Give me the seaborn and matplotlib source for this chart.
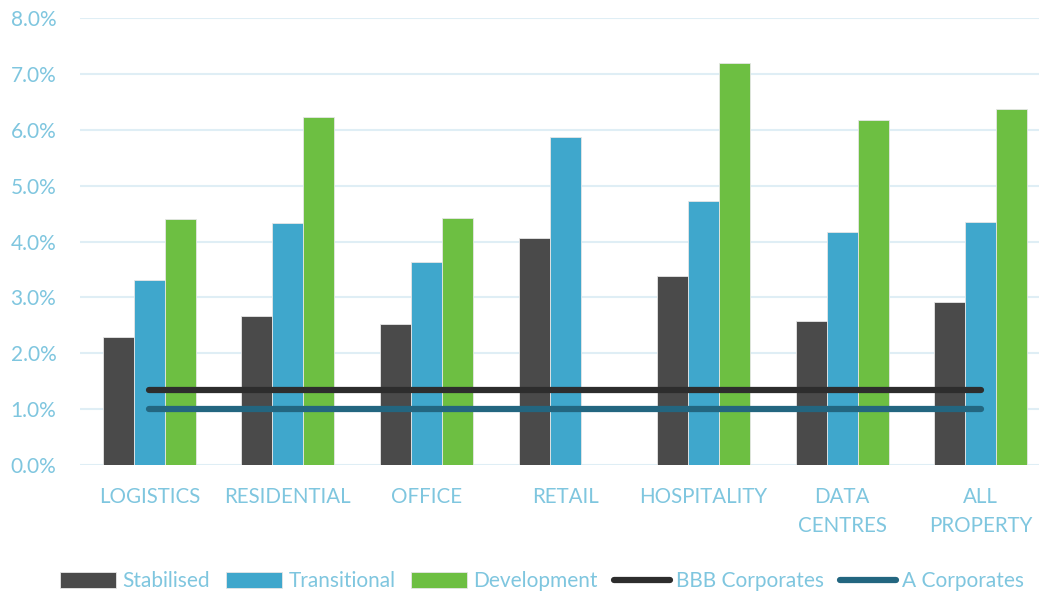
import numpy as np
import pandas as pd
import matplotlib
matplotlib.use("Agg")
import matplotlib.pyplot as plt
import seaborn as sns

categories = ["LOGISTICS", "RESIDENTIAL", "OFFICE", "RETAIL", "HOSPITALITY", "DATA\nCENTRES", "ALL\nPROPERTY"]
stabilised = [2.30, 2.67, 2.52, 4.07, 3.38, 2.58, 2.92]
transitional = [3.32, 4.33, 3.64, 5.88, 4.72, 4.18, 4.35]
development = [4.40, 6.23, 4.42, np.nan, 7.19, 6.18, 6.37]
bbb_corporates = [1.35] * 7
a_corporates = [1.01] * 7
series_names = ["Stabilised", "Transitional", "Development"]
yticks = [0, 1, 2, 3, 4, 5, 6, 7, 8]

text_col = "#7fc6df"
colors = {"Stabilised": "#4a4a4a", "Transitional": "#3fa7cc", "Development": "#6dbf42"}

sns.set_theme(style="white")
plt.rcParams["font.family"] = ["Lato", "DejaVu Sans"]

rows = []
for name, vals in zip(series_names, [stabilised, transitional, development]):
    for c, v in zip(categories, vals):
        rows.append({"category": c, "series": name, "value": v})
df = pd.DataFrame(rows)

fig = plt.figure(figsize=(10.39, 5.91), dpi=100)
ax = fig.add_axes([0.077, 0.213, 0.923, 0.7565])

sns.barplot(data=df, x="category", y="value", hue="series", order=categories,
            hue_order=series_names, palette=colors, width=0.67, ax=ax,
            edgecolor="#e6e6e6", linewidth=0.6, saturation=1, errorbar=None)

xpos = np.arange(len(categories))
sns.lineplot(x=xpos, y=bbb_corporates, color="#2d2d2d", linewidth=4.5,
             solid_capstyle="round", label="BBB Corporates", ax=ax)
sns.lineplot(x=xpos, y=a_corporates, color="#236680", linewidth=4.5,
             solid_capstyle="round", label="A Corporates", ax=ax)

ax.set_ylim(0, 8)
ax.set_xlim(-0.5, 6.42)
ax.set_yticks(yticks)
ax.set_yticklabels([f"{t:.1f}%" for t in yticks])
ax.set_xticks(xpos)
ax.set_xticklabels(categories, linespacing=1.55)
ax.tick_params(axis="y", length=0, pad=17, labelsize=15, labelcolor=text_col)
ax.tick_params(axis="x", length=0, pad=16, labelsize=14.8, labelcolor=text_col)
ax.yaxis.grid(True, color="#dfeef5", linewidth=1.5)
ax.set_axisbelow(True)
for s in ax.spines.values():
    s.set_visible(False)
ax.set_xlabel("")
ax.set_ylabel("")

handles, labels = ax.get_legend_handles_labels()
ax.legend(handles, labels, loc="center", bbox_to_anchor=(0.482, -0.26),
          ncol=5, frameon=False, fontsize=15, labelcolor=text_col,
          handlelength=2.7, handleheight=0.75, handletextpad=0.3, columnspacing=0.75)

fig.savefig("out.png", dpi=100)
